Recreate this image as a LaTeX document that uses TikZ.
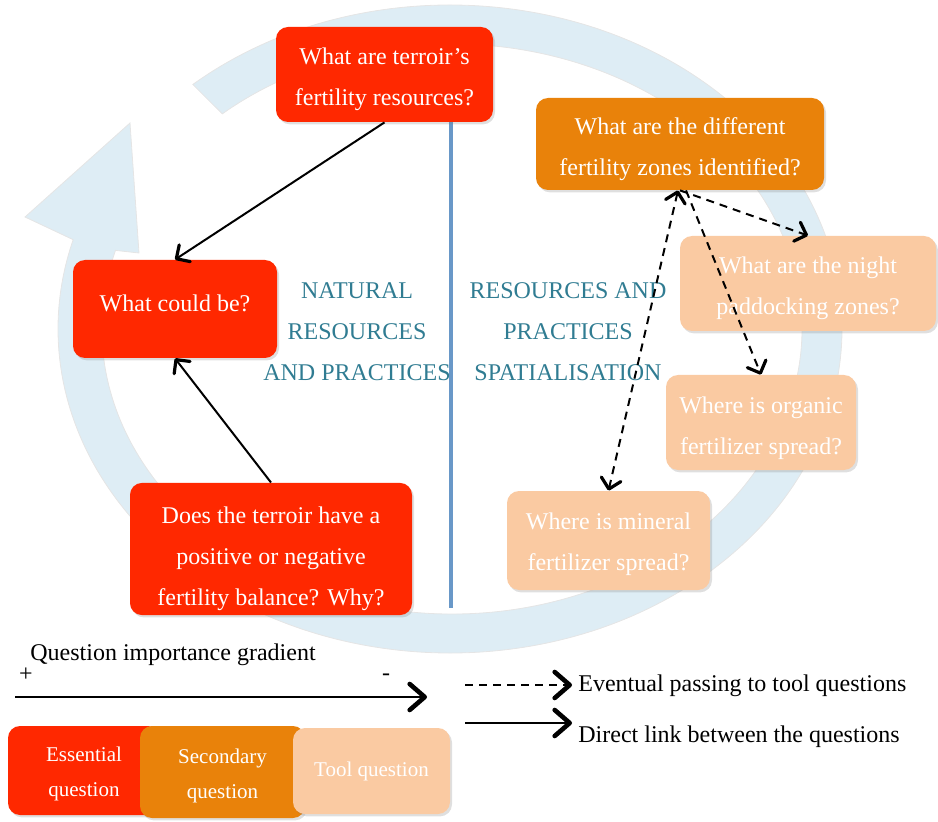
\documentclass[tikz,border=0pt]{standalone}
\usepackage{fontspec}
\setmainfont{Liberation Serif}
\usetikzlibrary{arrows.meta,shadows}

\definecolor{essred}{RGB}{255,40,0}
\definecolor{secorange}{RGB}{233,130,10}
\definecolor{toolpeach}{RGB}{250,202,162}
\definecolor{cycleblue}{RGB}{222,237,245}
\definecolor{splitblue}{RGB}{105,152,200}
\definecolor{zoneteal}{RGB}{48,124,146}

% struts to sit the text lower or higher in its box
\newcommand{\lowtext}[1]{\rule{0pt}{#1}}
\newcommand{\hightext}[1]{\rule[-#1]{0pt}{#1}}

\begin{document}
\begin{tikzpicture}[x=0.5pt,y=0.5pt]
		\tikzstyle{question}=[rounded corners=6pt, text=white, align=center, inner sep=2pt,
			font=\fontsize{12}{20.5}\selectfont,
			drop shadow={opacity=0.25,shadow xshift=1pt,shadow yshift=-1.2pt}]
		\tikzstyle{essential}=[question, fill=essred]
		\tikzstyle{secondary}=[question, fill=secorange]
		\tikzstyle{tool}=[question, fill=toolpeach]
		\tikzstyle{keybox}=[font=\fontsize{10.5}{17.5}\selectfont]
		\tikzstyle{zonelabel}=[text=zoneteal, align=center, font=\fontsize{12}{20.5}\selectfont]
		\tikzstyle{keytext}=[font=\fontsize{12}{14}\selectfont, inner sep=0pt]
		\tikzstyle{link}=[line width=1pt, -{Straight Barb[round,length=5pt,width=10pt,line width=1.6pt]}]
		\tikzstyle{passing}=[link, dash pattern=on 4pt off 3pt]
		\tikzstyle{keyarrow}=[line width=1.3pt, -{Straight Barb[round,length=7.5pt,width=13pt,line width=2.3pt]}]

		\useasboundingbox (0,0) rectangle (938,821);

		% cycle arrow behind the questions
		\fill[cycleblue, draw=black!10, line width=0.4pt] (450,492) ++(131:392 and 324)
			arc[start angle=131, end angle=-196, x radius=392, y radius=324]
			-- (25,604) -- (130,698) -- (139,568) -- (115.5,570.6)
			arc[start angle=-196, end angle=131, x radius=350, y radius=285] -- cycle;

		\coordinate (splittop) at (451,699);
		\coordinate (splitbot) at (451,213);
		\draw[splitblue, line width=2pt] (splittop) -- (splitbot);

		\node[zonelabel] (natural) at (357,489.5) {NATURAL\\RESOURCES\\AND PRACTICES};
		\node[zonelabel] (spatial) at (568,489.5) {RESOURCES AND\\PRACTICES\\SPATIALISATION};

		\node[essential, minimum width=108.5pt, minimum height=47.5pt] (terroir) at (384.5,746.5) {\lowtext{13.5pt}What are terroir's\\fertility resources?};
		\node[essential, minimum width=102pt, minimum height=49pt] (could) at (175,512) {What could be?\hightext{6pt}};
		\node[essential, minimum width=141pt, minimum height=65pt] (balance) at (271,272) {\lowtext{18.5pt}Does the terroir have a\\positive or negative\\fertility balance? Why?};
		\node[secondary, minimum width=144pt, minimum height=46pt] (zones) at (680,677) {\lowtext{14pt}What are the different\\fertility zones identified?};
		\node[tool, minimum width=128pt, minimum height=47.5pt] (paddock) at (808,537.5) {\lowtext{13.5pt}What are the night\\paddocking zones?};
		\node[tool, minimum width=95pt, minimum height=47.5pt] (organic) at (761,398.5) {\lowtext{14pt}Where is organic\\fertilizer spread?};
		\node[tool, minimum width=101.5pt, minimum height=49.5pt] (mineral) at (608.5,280.5) {\lowtext{12.5pt}Where is mineral\\fertilizer spread?};

		\path[link] (terroir.south) edge (could.north);
		\path[link] (balance.north) edge (could.south);
		\path[passing] (zones.south) edge (paddock.north);
		\path[passing] ([xshift=3pt]zones.south) edge (organic.north);
		\path[passing, {Straight Barb[round,length=5pt,width=10pt,line width=1.6pt]}-{Straight Barb[round,length=5pt,width=10pt,line width=1.6pt]}] ([xshift=-1pt]zones.south) edge (mineral.north);

		% legend
		\node[keytext, anchor=west] (gradient) at (30,166) {Question importance gradient};
		\node[keytext] (plus) at (26,146) {+};
		\node[keytext] (minus) at (386,144) {-};
		\coordinate (gradstart) at (15,124);
		\coordinate (gradend) at (427,124);
		\draw[keyarrow] (gradstart) -- (gradend);

		\node[keytext, anchor=west] (dashtext) at (578,135) {Eventual passing to tool questions};
		\node[keytext, anchor=west] (solidtext) at (578,84) {Direct link between the questions};
		\coordinate (dashstart) at (465,136);
		\coordinate (dashend) at (572,136);
		\coordinate (solidstart) at (465,98);
		\coordinate (solidend) at (572,98);
		\draw[keyarrow, dash pattern=on 4pt off 3pt] (dashstart) -- (dashend);
		\draw[keyarrow] (solidstart) -- (solidend);

		\node[essential, keybox, minimum width=76pt, minimum height=44.5pt] (keyess) at (84,50.5) {\lowtext{11pt}Essential\\question};
		\node[secondary, keybox, minimum width=82.5pt, minimum height=46pt] (keysec) at (222.5,49) {\lowtext{11pt}Secondary\\question};
		\node[tool, keybox, minimum width=78.5pt, minimum height=43pt] (keytool) at (371.5,50) {Tool question};
\end{tikzpicture}
\end{document}
